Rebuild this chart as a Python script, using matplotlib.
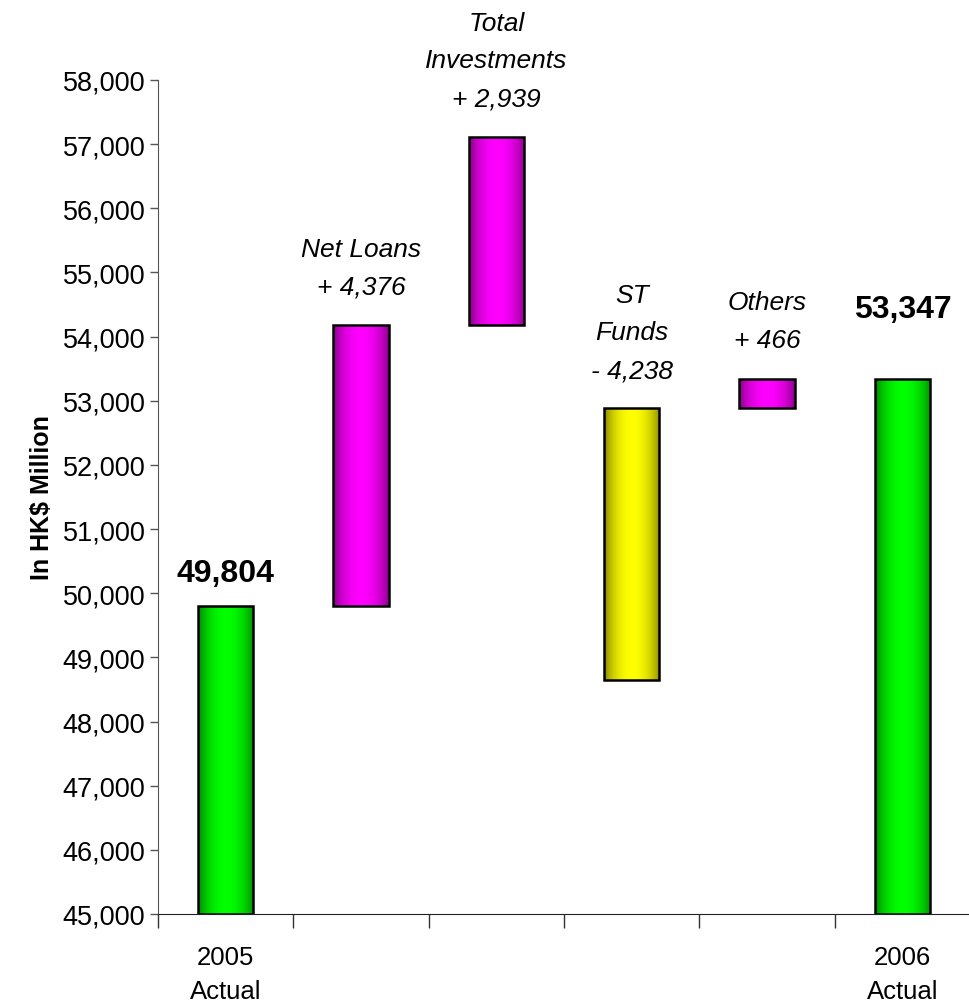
import numpy as np
import matplotlib
matplotlib.use("Agg")
import matplotlib.pyplot as plt
from matplotlib.patches import Rectangle

plt.rcParams['font.family'] = ['Liberation Sans', 'DejaVu Sans']

# HK$ million, 2005 -> 2006 bridge
start_value = 49804
end_value = 53347
change_names = ['Net Loans', 'Total\nInvestments', 'ST\nFunds', 'Others']
change_values = [4376, 2939, -4238, 466]
change_text = ['+ 4,376', '+ 2,939', '- 4,238', '+ 466']
end_labels = ['2005\nActual', '2006\nActual']
bar_rgb = {'up': (1.0, 0.0, 1.0), 'down': (1.0, 1.0, 0.0), 'total': (0.0, 1.0, 0.0)}

y_min, y_max = 45000, 58000

fig = plt.figure(figsize=(9.7, 10.04), dpi=100)
ax = fig.add_axes([158 / 970, 89 / 1004, 812 / 970, 834 / 1004])

# cylinder-style shading across each bar
t = np.linspace(0, 1, 200)
shade = 0.38 + 0.62 * np.clip(np.sin(np.pi * (t * 0.95 + 0.02)), 0, 1) ** 0.6


def shaded_bar(x, bottom, top, rgb, width=0.41):
    left = x - width / 2
    img = np.zeros((1, len(t), 3))
    for c in range(3):
        img[0, :, c] = rgb[c] * shade
    rect = Rectangle((left, bottom), width, top - bottom, facecolor='none',
                     edgecolor='black', linewidth=1.8, zorder=3)
    ax.add_patch(rect)
    im = ax.imshow(img, extent=[left, left + width, bottom, top], aspect='auto',
                   interpolation='bilinear', zorder=2)
    im.set_clip_path(rect)


# opening and closing totals
shaded_bar(0.5, y_min, start_value, bar_rgb['total'])
shaded_bar(5.5, y_min, end_value, bar_rgb['total'])

# floating change bars; each bar hangs below the running level it ends at
# for decreases, and sits on the previous level for increases
level = start_value
tops = []
for i, delta in enumerate(change_values):
    level += delta
    if delta > 0:
        lo, hi = level - delta, level
    else:
        lo, hi = level + delta, level
    shaded_bar(1.5 + i, lo, hi, bar_rgb['up'] if delta > 0 else bar_rgb['down'])
    tops.append(hi)

for i, (name, txt) in enumerate(zip(change_names, change_text)):
    ax.annotate(name + '\n' + txt, xy=(1.5 + i, tops[i]), xytext=(0, 19),
                textcoords='offset points', ha='center', va='bottom',
                fontsize=19, style='italic', linespacing=1.72)

ax.annotate(f'{start_value:,}', xy=(0.5, start_value), xytext=(0, 13),
            textcoords='offset points', ha='center', va='bottom',
            fontsize=23, fontweight='bold')
ax.annotate(f'{end_value:,}', xy=(5.5, end_value), xytext=(0, 39),
            textcoords='offset points', ha='center', va='bottom',
            fontsize=23, fontweight='bold')

ax.set_xlim(0, 6)
ax.set_ylim(y_min, y_max)
ax.set_yticks(np.arange(y_min, y_max + 1, 1000))
ax.yaxis.set_major_formatter(matplotlib.ticker.StrMethodFormatter('{x:,.0f}'))
ax.set_xticks(np.arange(0, 7))
ax.set_xticklabels([])
ax.set_xticks([0.5, 5.5], minor=True)
ax.set_xticklabels(end_labels, minor=True, fontsize=18.5, linespacing=1.55)
ax.tick_params(axis='x', which='major', length=10, width=1, color='#333333')
ax.tick_params(axis='x', which='minor', length=0, pad=22)
ax.tick_params(axis='y', length=6, width=1, labelsize=19.5, pad=3, color='#555555')

for side in ('top', 'right'):
    ax.spines[side].set_visible(False)
ax.spines['left'].set_color('#555555')
ax.spines['bottom'].set_color('#222222')

ax.set_ylabel('In HK$ Million', fontsize=18, fontweight='bold', labelpad=6)

fig.savefig('out.png', dpi=100)
